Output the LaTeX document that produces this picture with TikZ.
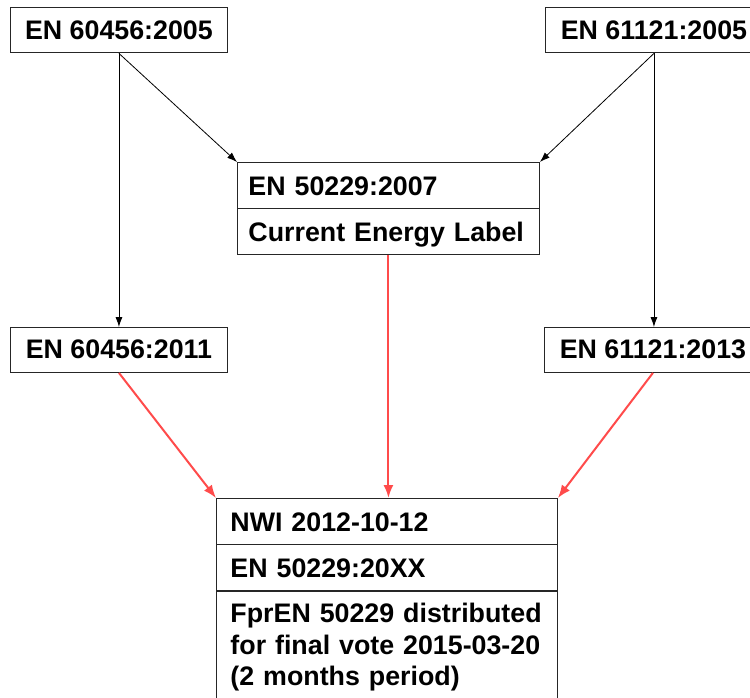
\documentclass[tikz,border=0pt]{standalone}
\usepackage{fontspec}
\setmainfont{Liberation Sans}
\usetikzlibrary{arrows.meta,positioning,calc}

\definecolor{arrowred}{RGB}{255,75,75}

\tikzset{
  stdbox/.style={draw=black!85, line width=0.9pt, minimum width=217pt, minimum height=45pt,
    inner sep=0pt, text height=19pt, text depth=1pt},
  partbox/.style={draw=black!85, line width=0.9pt, align=left, inner ysep=0pt,
    minimum height=45.5pt, text height=20pt, text depth=0pt},
  feed/.style={-{Latex[length=10pt,width=7pt]}, line width=0.8pt, black},
  revise/.style={-{Latex[length=13pt,width=10pt]}, line width=2pt, arrowred},
}

\begin{document}
\begin{tikzpicture}[x=1pt, y=-1pt, font=\fontsize{26.8}{31.5}\selectfont\bfseries]
  \useasboundingbox (0,0) rectangle (750,698);

  % standards of 2005
  \node[stdbox, anchor=north west] (en60456old) at (10,7.5) {EN 60456:2005};
  \node[stdbox, anchor=north west] (en61121old) at (545,7.5) {EN 61121:2005};

  % revised standards
  \node[stdbox, anchor=north west] (en60456new) at (10,327) {EN 60456:2011};
  \node[stdbox, anchor=north west] (en61121new) at (544,327) {EN 61121:2013};

  % current label
  \node[partbox, text width=280pt, inner xsep=11pt, anchor=north west] (label) at (237,162) {EN 50229:2007};
  \node[partbox, text width=280pt, inner xsep=11pt, below=0pt of label] (labelname) {Current Energy Label};

  % new work item
  \node[partbox, text width=313pt, inner xsep=14pt, anchor=north west] (nwi) at (216,498) {NWI 2012-10-12};
  \node[partbox, text width=313pt, inner xsep=14pt, below=0pt of nwi] (draft) {EN 50229:20XX};
  \node[draw=black!85, line width=0.9pt, align=left, text width=313pt, inner xsep=14pt, inner ysep=12pt,
    below=0pt of draft] (vote)
    {FprEN 50229 distributed\\for final vote 2015-03-20\\(2 months period)\rule[-20pt]{0pt}{20pt}};

  % black arrows
  \draw[feed] (en60456old.south) -- (en60456new.north);
  \draw[feed] (en60456old.south) -- (label.north west);
  \draw[feed] (en61121old.south) -- (en61121old.south |- en61121new.north);
  \draw[feed] (en61121old.south) -- (label.north east);

  % red arrows
  \draw[revise] (en60456new.south) -- (nwi.north west);
  \draw[revise] (labelname.south) -- (labelname.south |- nwi.north);
  \draw[revise] (en61121new.south) -- (nwi.north east);
\end{tikzpicture}
\end{document}
